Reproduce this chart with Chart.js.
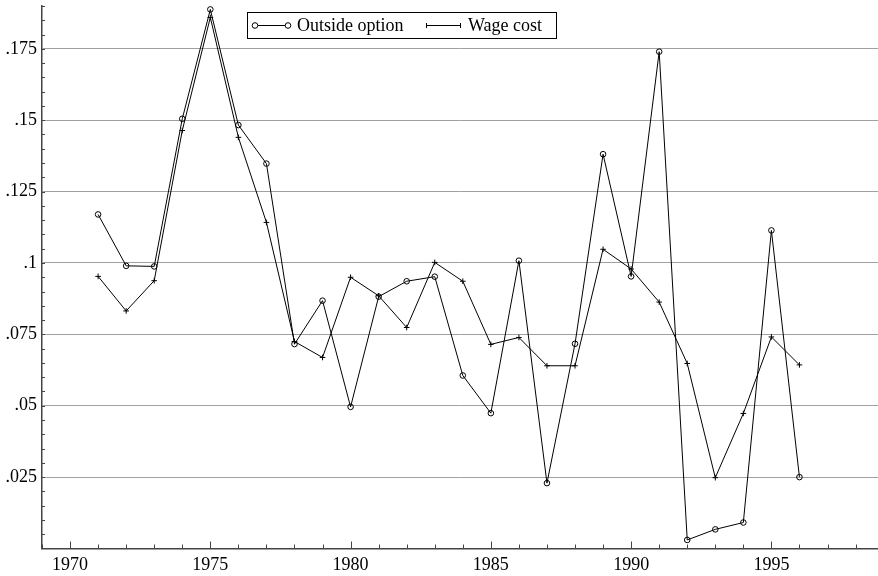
<!DOCTYPE html>
<html>
<head>
<meta charset="utf-8">
<title>Outside option and wage cost</title>
<script src="https://cdn.jsdelivr.net/npm/chart.js@4/dist/chart.umd.min.js"></script>
<style>
  html, body { margin: 0; padding: 0; background: #fff; }
  canvas { display: block; }
</style>
</head>
<body>
<canvas id="chart" width="878" height="576"></canvas>
<script>
// Years on the x axis
const years = [1971, 1972, 1973, 1974, 1975, 1976, 1977, 1978, 1979, 1980,
  1981, 1982, 1983, 1984, 1985, 1986, 1987, 1988, 1989, 1990,
  1991, 1992, 1993, 1994, 1995, 1996];

// Series values
const outsideOption = [0.117, 0.099, 0.0988, 0.1505, 0.1888, 0.1483, 0.1348, 0.0716, 0.0868, 0.0496,
  0.0882, 0.0936, 0.0952, 0.0606, 0.0474, 0.1008, 0.0229, 0.0717, 0.1381, 0.0953,
  0.174, 0.003, 0.0067, 0.0091, 0.1114, 0.025];
const wageCost = [0.0953, 0.0832, 0.0938, 0.1464, 0.186, 0.144, 0.1142, 0.0725, 0.0669, 0.095,
  0.0885, 0.0774, 0.1002, 0.0936, 0.0715, 0.0739, 0.064, 0.064, 0.1048, 0.0979,
  0.0863, 0.0648, 0.0248, 0.0473, 0.0741, 0.0643];

// Tick labels
const xTicks = [1970, 1975, 1980, 1985, 1990, 1995];
const yTicks = [0.025, 0.05, 0.075, 0.1, 0.125, 0.15, 0.175];

const font = { family: "'Liberation Serif', 'Times New Roman', serif", size: 18 };
const axisColor = "#444";

// small inward ticks (yearly on x, every .005 on y) and the boxed legend
const extras = {
  id: "extras",
  afterDraw(chart) {
    const ctx = chart.ctx;
    const x = chart.scales.x, y = chart.scales.y;
    const area = chart.chartArea;
    ctx.save();
    ctx.strokeStyle = axisColor;
    ctx.lineWidth = 1;
    ctx.beginPath();
    for (let yr = Math.ceil(x.min); yr <= x.max; yr++) {
      const px = Math.round(x.getPixelForValue(yr)) + 0.5;
      const len = yr % 5 === 0 ? 7 : 4;
      ctx.moveTo(px, area.bottom);
      ctx.lineTo(px, area.bottom - len);
    }
    for (let i = 1; i * 0.005 <= y.max; i++) {
      const py = Math.round(y.getPixelForValue(i * 0.005)) + 0.5;
      ctx.moveTo(area.left, py);
      ctx.lineTo(area.left + 3, py);
    }
    ctx.stroke();

    // legend
    ctx.strokeStyle = "#000";
    ctx.fillStyle = "#000";
    ctx.lineWidth = 1;
    ctx.strokeRect(247.5, 12.5, 309, 26);
    const ly = 25.5;
    ctx.beginPath();
    ctx.moveTo(255, ly); ctx.lineTo(288, ly);
    ctx.moveTo(426, ly); ctx.lineTo(461, ly);
    ctx.moveTo(426.5, ly - 2.5); ctx.lineTo(426.5, ly + 2.5);
    ctx.moveTo(460.5, ly - 2.5); ctx.lineTo(460.5, ly + 2.5);
    ctx.stroke();
    ctx.fillStyle = "#fff";
    [255, 288].forEach((cx) => {
      ctx.beginPath();
      ctx.arc(cx, ly, 2.8, 0, Math.PI * 2);
      ctx.fill();
      ctx.stroke();
    });
    ctx.fillStyle = "#000";
    ctx.font = font.size + "px " + font.family;
    ctx.textBaseline = "middle";
    ctx.textAlign = "left";
    ctx.fillText(chart.data.datasets[0].label, 297, 26);
    ctx.fillText(chart.data.datasets[1].label, 468, 26);
    ctx.restore();
  },
};

new Chart(document.getElementById("chart"), {
  type: "line",
  data: {
    datasets: [
      {
        label: "Outside option",
        data: years.map((yr, i) => ({ x: yr, y: outsideOption[i] })),
        borderColor: "#000",
        borderWidth: 1,
        pointStyle: "circle",
        pointRadius: 2.8,
        pointBorderWidth: 1,
        pointBorderColor: "#000",
        pointBackgroundColor: "rgba(255,255,255,0)",
        tension: 0,
      },
      {
        label: "Wage cost",
        data: years.map((yr, i) => ({ x: yr, y: wageCost[i] })),
        borderColor: "#000",
        borderWidth: 1,
        pointStyle: "cross",
        pointRadius: 2.8,
        pointBorderWidth: 1,
        pointBorderColor: "#000",
        tension: 0,
      },
    ],
  },
  options: {
    responsive: false,
    animation: false,
    layout: { autoPadding: false, padding: { top: 6, right: 0, left: 0, bottom: 0 } },
    plugins: {
      legend: { display: false },
      tooltip: { enabled: false },
    },
    scales: {
      x: {
        type: "linear",
        min: 1969,
        max: 1998.8,
        afterBuildTicks: (scale) => { scale.ticks = xTicks.map((v) => ({ value: v })); },
        afterFit: (scale) => {
          scale.height = 27.5;
          scale.paddingLeft = 0;
          scale.paddingRight = 0;
        },
        grid: { drawOnChartArea: false, drawTicks: false },
        border: { display: true, color: axisColor, width: 1.5 },
        ticks: {
          color: "#000",
          font: font,
          padding: 6,
          maxRotation: 0,
          callback: (v) => String(v),
        },
      },
      y: {
        min: 0,
        max: 0.19,
        afterBuildTicks: (scale) => { scale.ticks = yTicks.map((v) => ({ value: v })); },
        afterFit: (scale) => {
          scale.width = 42;
          scale.paddingTop = 0;
          scale.paddingBottom = 0;
        },
        grid: { color: "#a0a0a0", lineWidth: 1, drawTicks: false },
        border: { display: true, color: axisColor, width: 1.5 },
        ticks: {
          color: "#000",
          font: font,
          padding: 5,
          callback: (v) => String(+v.toFixed(3)).replace(/^0/, ""),
        },
      },
    },
  },
  plugins: [extras],
});
</script>
</body>
</html>
